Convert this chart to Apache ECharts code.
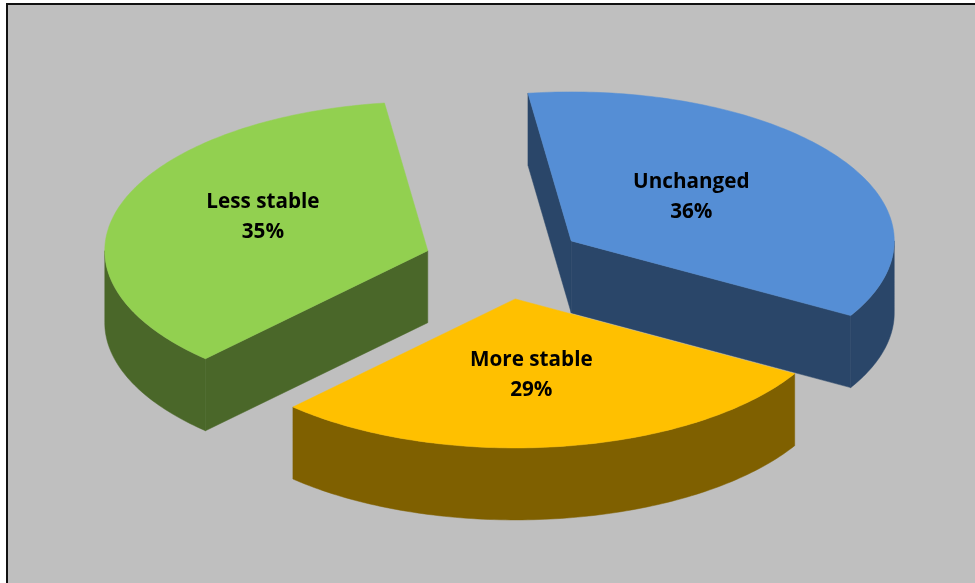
<!DOCTYPE html>
<html><head><meta charset="utf-8">
<style>html,body{margin:0;padding:0;background:#fff}
#frame{position:absolute;left:6px;top:3px;width:969px;height:580px;box-sizing:border-box;border-left:2px solid #111;border-top:2px solid #111;background:#BFBFBF}
#c{width:975px;height:583px;position:absolute;left:0;top:0}</style>
<script src="https://cdn.jsdelivr.net/npm/echarts@6/dist/echarts.min.js"></script>
</head><body><div id="frame"></div><div id="c"></div>
<script>
var categories = ['Unchanged', 'More stable', 'Less stable'];
var values = [36, 29, 35];
var topColors = ['#558ED5', '#FFC000', '#92D050'];
var wallColors = ['#2A4669', '#7F6000', '#4A6729'];
var labelShift = [[-13, -2], [-5, 2], [-11, -11]];
var drawOrder = [2, 0, 1];

var CX = 504.7, CY = 262, RX = 323, RY = 149, DEPTH = 72, EXPLODE = 0.25, START = -9.3;
// slight angular distortion of the reference's 3D perspective
var PERSP_C = 0.18, PERSP_COS = 1.51, PERSP_SIN = 0.44;
var total = values.reduce(function (a, b) { return a + b; }, 0);
var RAD = Math.PI / 180;

function warp(deg) {
  return deg + PERSP_C + PERSP_COS * Math.cos(deg * RAD) + PERSP_SIN * Math.sin(deg * RAD);
}
function sliceAngles(i) {
  var before = 0;
  for (var k = 0; k < i; k++) before += values[k];
  return [START + before / total * 360, START + (before + values[i]) / total * 360];
}
function pt(o, deg, r) {
  return [o[0] + RX * r * Math.sin(deg * RAD), o[1] - RY * r * Math.cos(deg * RAD)];
}
function down(p) { return [p[0], p[1] + DEPTH]; }
function poly(points, color) {
  return { type: 'polygon', shape: { points: points }, style: { fill: color, stroke: color, lineWidth: 0.5 } };
}
function arc(o, a, b) {
  var n = Math.max(2, Math.ceil(Math.abs(b - a))), out = [];
  for (var j = 0; j <= n; j++) out.push(pt(o, a + (b - a) * j / n, 1));
  return out;
}
function renderItem(params, api) {
  var i = drawOrder[params.dataIndex];
  var ang = sliceAngles(i), mid = (ang[0] + ang[1]) / 2;
  var a = warp(ang[0]), b = warp(ang[1]);
  var apex = pt([CX, CY], mid, EXPLODE);
  var kids = [];
  var wall = wallColors[i];
  var pa = pt(apex, a, 1), pb = pt(apex, b, 1);
  if (Math.sin(a * RAD) < 0) kids.push(poly([apex, pa, down(pa), down(apex)], wall));
  if (Math.sin(b * RAD) > 0) kids.push(poly([apex, pb, down(pb), down(apex)], wall));
  var fa = Math.max(a, 90), fb = Math.min(b, 270);
  if (fb > fa) {
    var rim = arc(apex, fa, fb);
    kids.push(poly(rim.concat(rim.slice().reverse().map(down)), wall));
  }
  kids.push(poly([apex].concat(arc(apex, a, b)), topColors[i]));
  var lp = pt(apex, mid, 0.5);
  kids.push({
    type: 'text', z2: 10,
    style: {
      x: lp[0] + labelShift[i][0], y: lp[1] + labelShift[i][1],
      text: categories[i] + '\n' + values[i] + '%',
      align: 'center', verticalAlign: 'middle',
      font: 'bold 20.7px "Open Sans"', lineHeight: 30, fill: '#000'
    }
  });
  return { type: 'group', children: kids };
}
var chart = echarts.init(document.getElementById('c'), null, { renderer: 'canvas' });
chart.setOption({
  animation: false,
  backgroundColor: 'transparent',
  series: [{
    type: 'custom',
    coordinateSystem: 'none',
    renderItem: renderItem,
    silent: true,
    data: drawOrder.map(function (i) { return { name: categories[i], value: values[i] }; })
  }]
});
</script></body></html>
